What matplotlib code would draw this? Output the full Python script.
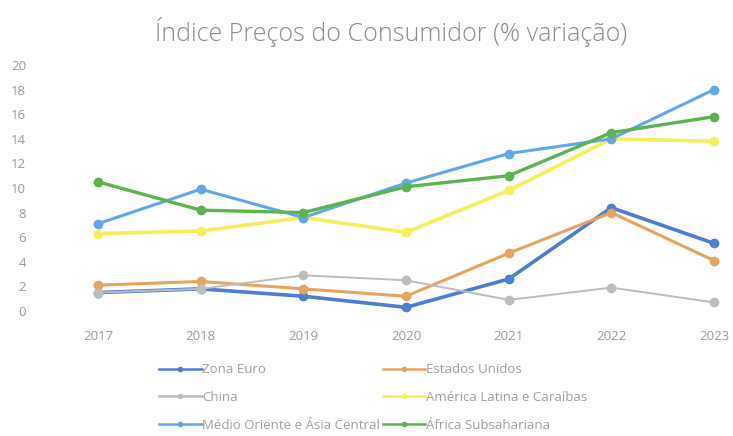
import matplotlib
matplotlib.use('Agg')
import matplotlib.pyplot as plt
import numpy as np

# dados
anos = ['2017', '2018', '2019', '2020', '2021', '2022', '2023']
zona_euro = [1.5, 1.8, 1.2, 0.3, 2.6, 8.4, 5.5]
estados_unidos = [2.1, 2.4, 1.8, 1.2, 4.7, 8.0, 4.1]
china = [1.5, 1.8, 2.9, 2.5, 0.9, 1.9, 0.7]
america_latina = [6.3, 6.5, 7.6, 6.4, 9.8, 14.0, 13.8]
medio_oriente = [7.1, 9.9, 7.6, 10.4, 12.8, 14.0, 18.0]
africa = [10.5, 8.2, 8.0, 10.1, 11.0, 14.5, 15.8]

nomes = ['Zona Euro', 'Estados Unidos', 'China', 'América Latina e Caraíbas',
		 'Médio Oriente e Ásia Central', 'África Subsahariana']
series = [zona_euro, estados_unidos, china, america_latina, medio_oriente, africa]
cores = ['#4a7fd4', '#e8a45e', '#bdbdbd', '#f4ef5a', '#5fa8ec', '#5cb44c']
larguras = [2.6, 2.2, 1.4, 2.6, 2.2, 2.4]

plt.rcParams['font.family'] = ['Open Sans', 'DejaVu Sans']

fig = plt.figure(figsize=(7.33, 4.36), dpi=100)
fig.patch.set_facecolor('white')
ax = fig.add_axes([40/733, 125/436, 688/733, 246/436])	# posição do gráfico

x = np.arange(len(anos))
linhas = []
for s, nome, c, lw in zip(series, nomes, cores, larguras):
	l, = ax.plot(x, s, color=c, lw=lw, marker='o', ms=6, label=nome, clip_on=False)
	linhas.append(l)

ax.set_xlim((40-98)/102.67, (728-98)/102.67)
ax.set_ylim(0, 20)
ax.set_yticks(range(0, 21, 2))
ax.set_xticks(x)
ax.set_xticklabels(anos)
for sp in ax.spines.values():
	sp.set_visible(False)
ax.tick_params(axis='both', length=0, colors='#9a9a9a', labelsize=9.5)
ax.tick_params(axis='x', pad=14)
ax.tick_params(axis='y', pad=10)

fig.text(391/733, 1-32/436, 'Índice Preços do Consumidor (% variação)', ha='center', va='center',
		 fontsize=18, color='#8c8c8c', fontweight='light')

# legenda por linhas (2 colunas)
ordem = [0, 2, 4, 1, 3, 5]
leg = fig.legend([linhas[i] for i in ordem], [nomes[i] for i in ordem], ncol=2,
				 loc='upper left', bbox_to_anchor=(154/733, 1-358/436), frameon=False,
				 fontsize=9.5, labelcolor='#a0a0a0', handlelength=3.2, handletextpad=0.05,
				 columnspacing=0.2, labelspacing=1.12, markerscale=0.5, borderaxespad=0)
for h in leg.legend_handles:
	h.set_linewidth(1.8)

fig.savefig('out.png', dpi=100, facecolor='white')
